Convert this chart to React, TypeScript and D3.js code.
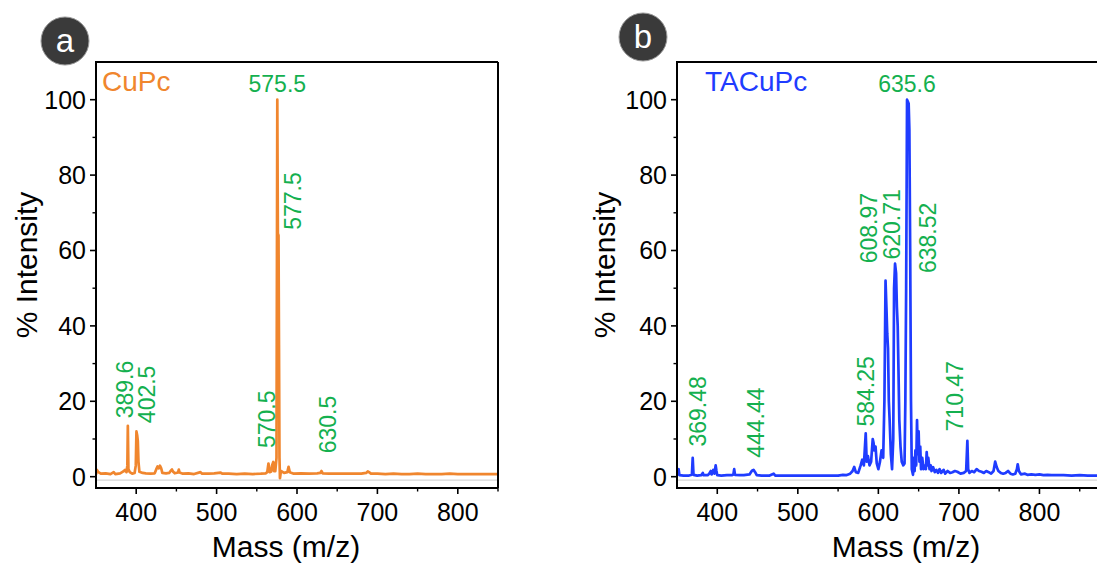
import React from "react";
import * as d3 from "d3";

// ---------- data ----------
const cupcSpectrum: [number, number][] = [
  [350,0.6],[351,1.8],[353,1.2],[356,0.8],[362,0.9],[368,0.7],[372,1.2],[374,0.7],[380,0.9],[384,1.4],[386,1.8],[388,1.2],[389,3],[389.6,13.5],[390.3,2],[392,1.2],[395,0.8],[398,1],[399.5,3],[400.3,12],[401.2,11],[402,9.5],[402.8,4],[404,1.3],[408,1],[412,0.9],[418,0.8],[423,0.9],[425,2],[426.5,2.7],[428,2.2],[429.5,2.9],[431,2.3],[432.5,1],[437,0.9],[441,1],[443,1.6],[444.5,1.9],[446,1.3],[448,0.9],[452,1.1],[453,1.9],[454,1.1],[458,0.8],[465,0.9],[472,0.7],[480,1.2],[482,0.8],[490,0.8],[497,0.9],[505,1.1],[507,0.8],[515,0.8],[525,0.7],[535,0.8],[545,0.7],[555,0.8],[561,0.9],[563,1.2],[564.5,3.5],[566,1.2],[568,1.4],[569,3],[570.5,3.9],[571.5,1.5],[573,1.5],[574.5,5],[575.5,100],[576.2,64.5],[577,64],[577.6,35],[578.2,5],[578.8,-0.4],[580,1.5],[584,1],[588,1.2],[589.5,2.6],[591,1.2],[596,0.8],[605,0.9],[615,0.8],[625,0.9],[629,1],[630.5,1.5],[632,0.9],[640,0.8],[650,0.8],[660,0.8],[670,0.8],[680,0.8],[686,1],[688,1.4],[689.5,1.2],[692,0.8],[700,0.8],[710,0.7],[720,0.8],[730,0.7],[740,0.7],[750,0.8],[760,0.7],[770,0.7],[780,0.7],[790,0.8],[800,0.7],[810,0.7],[820,0.7],[830,0.7],[840,0.7],[850,0.7]
];

const tacupcSpectrum: [number, number][] = [
  [350,0.3],[351,1.8],[352,2],[353,0.4],[358,0.3],[365,0.3],[368.5,0.5],[369.5,5],[370.5,0.5],[375,0.3],[380,0.4],[382,1],[383,0.4],[388,0.4],[390,0.8],[392,1.5],[393,0.6],[395,1.8],[396.5,0.8],[398,3],[399,1.5],[400,0.4],[405,0.3],[412,0.4],[418,0.4],[420,0.6],[421,2],[422,0.5],[428,0.4],[433,0.4],[440,0.6],[443,1.6],[445,1.8],[447,1.2],[449,0.4],[455,0.3],[465,0.3],[470,0.8],[472,0.3],[480,0.3],[490,0.3],[500,0.3],[510,0.3],[520,0.3],[530,0.3],[540,0.3],[550,0.3],[556,0.5],[560,0.4],[565,0.8],[568,1.5],[570,2.6],[572,1.2],[575,1],[578,3],[580,4.5],[582,3],[584.3,11.5],[585.5,4],[587,5.5],[589,3],[591,4],[593,10],[594,9],[595,7],[596.5,8],[598,3.5],[600,2],[602,4],[604,7],[606,5],[607.5,20],[608.9,52],[610,45],[611,38],[612,34],[613,20],[614,15],[615.5,6],[617,2],[618.5,10],[619.5,50],[620.7,56.5],[622,54],[623,45],[624,40],[625,28],[626,15],[627.5,8],[629,4],[631,3],[632.5,3.5],[633.5,20],[634.5,50],[635.6,100],[636.6,99.5],[637.6,99],[638.5,92],[639.5,60],[640.5,20],[641.5,2],[643,0.5],[644,5],[645,1.5],[646,7],[647,3],[648,15],[649,6],[650,12],[651,4],[652,8],[653,2],[654.5,5],[656,2],[658,3],[659,2],[660,6.5],[661,3],[662,5],[663.5,2],[665,3],[666,1.5],[668,2.5],[670,1.2],[672,1.8],[674,1],[676,2],[678,1],[681,1.8],[683,0.8],[686,1.5],[689,1],[692,1.2],[695,1.5],[698,1.3],[702,0.8],[706,1],[709,1.5],[710.5,9.5],[711.5,2],[713,1],[716,1.5],[719,1.2],[722,2],[725,1.5],[728,1.3],[731,1],[734,1.5],[737,1.2],[740,0.8],[743,1.5],[745,4],[747,2.5],[749,1.5],[752,1],[755,0.8],[758,1],[761,1.5],[764,0.8],[767,0.6],[770,0.8],[772,2],[773,3.3],[774.5,1.5],[777,0.6],[782,0.8],[785,0.5],[790,0.6],[795,0.5],[800,0.6],[805,0.4],[810,0.5],[815,0.4],[820,0.4],[830,0.4],[840,0.3],[850,0.4],[860,0.3],[870,0.3],[880,0.3],[890,0.3],[900,0.3]
];

// annotation: text, mz anchor, intensity anchor, x pixel offset, rotated?
type Ann = { text: string; mz: number; at: number; dx: number; rot: boolean };
const cupcLabels: Ann[] = [
  { text: "575.5", mz: 575.5, at: 102, dx: 0, rot: false },
  { text: "577.5", mz: 577.5, at: 65.5, dx: 22, rot: true },
  { text: "389.6", mz: 389.6, at: 15.5, dx: 5, rot: true },
  { text: "402.5", mz: 402.5, at: 14.2, dx: 17, rot: true },
  { text: "570.5", mz: 570.5, at: 7.6, dx: 2, rot: true },
  { text: "630.5", mz: 630.5, at: 6.2, dx: 14, rot: true },
];
const tacupcLabels: Ann[] = [
  { text: "635.6", mz: 635.6, at: 102, dx: 0, rot: false },
  { text: "608.97", mz: 608.97, at: 56.6, dx: -9, rot: true },
  { text: "620.71", mz: 620.71, at: 57.6, dx: 5, rot: true },
  { text: "638.52", mz: 638.52, at: 54, dx: 27, rot: true },
  { text: "584.25", mz: 584.25, at: 13.3, dx: 8, rot: true },
  { text: "369.48", mz: 369.48, at: 8, dx: 13, rot: true },
  { text: "444.44", mz: 444.44, at: 5, dx: 11, rot: true },
  { text: "710.47", mz: 710.47, at: 12, dx: -4, rot: true },
];

const yMajor = [0, 20, 40, 60, 80, 100];
const yMinor = [10, 30, 50, 70, 90];
const xMajor = [400, 500, 600, 700, 800, 900];
const xMinor = [350, 450, 550, 650, 750, 850];

const FONT = "'Liberation Sans', Arial, sans-serif";
const GREEN = "#14b04f";
const VIEW_W = 1097;

type PanelProps = {
  left: number; right: number; top: number; bottom: number;
  xDomain: [number, number];
  data: [number, number][];
  color: string;
  name: string;
  labels: Ann[];
  badge: string; badgeX: number; badgeY: number;
  yTitleX: number; xTitleX: number;
};

function Panel(p: PanelProps) {
  const x = d3.scaleLinear().domain(p.xDomain).range([p.left, p.right]);
  const y = d3.scaleLinear().domain([-3, 110]).range([p.bottom, p.top]);
  const line = d3.line<[number, number]>().x(d => x(d[0])).y(d => y(d[1]));
  const clipId = "clip-" + p.badge;
  const visible = (v: number) => v > p.xDomain[0] && v <= p.xDomain[1] && x(v) < VIEW_W - 22;
  return (
    <g>
      <defs>
        <clipPath id={clipId}>
          <rect x={p.left} y={p.top} width={p.right - p.left} height={p.bottom - p.top} />
        </clipPath>
      </defs>
      {/* zero reference line */}
      <line x1={p.left} x2={p.right} y1={y(-0.9)} y2={y(-0.9)} stroke="#d6d6d6" strokeWidth={1.2} />
      <path d={line(p.data) || ""} fill="none" stroke={p.color} strokeWidth={2.7} strokeLinejoin="round" clipPath={`url(#${clipId})`} />
      {/* frame */}
      <line x1={p.left} x2={p.right} y1={p.top} y2={p.top} stroke="#000" strokeWidth={2} />
      <line x1={p.right} x2={p.right} y1={p.top} y2={p.bottom} stroke="#000" strokeWidth={2} />
      <line x1={p.left} x2={p.left} y1={p.top - 1} y2={p.bottom + 1} stroke="#000" strokeWidth={2} />
      <line x1={p.left - 1} x2={p.right} y1={p.bottom} y2={p.bottom} stroke="#000" strokeWidth={2} />
      {/* y ticks */}
      {yMajor.map(v => (
        <g key={"ym" + v}>
          <line x1={p.left - 6} x2={p.left} y1={y(v)} y2={y(v)} stroke="#000" strokeWidth={1.6} />
          <text x={p.left - 10} y={y(v) + 9} textAnchor="end" fontSize={25} fontFamily={FONT} fill="#000">{v}</text>
        </g>
      ))}
      {yMinor.map(v => (
        <line key={"yn" + v} x1={p.left - 3.5} x2={p.left} y1={y(v)} y2={y(v)} stroke="#000" strokeWidth={1.4} />
      ))}
      {/* x ticks */}
      {xMajor.filter(visible).map(v => (
        <g key={"xm" + v}>
          <line x1={x(v)} x2={x(v)} y1={p.bottom} y2={p.bottom + 6} stroke="#000" strokeWidth={1.6} />
          <text x={x(v)} y={p.bottom + 33} textAnchor="middle" fontSize={25} fontFamily={FONT} fill="#000">{v}</text>
        </g>
      ))}
      {xMinor.filter(v => v > p.xDomain[0] && v <= p.xDomain[1]).map(v => (
        <line key={"xn" + v} x1={x(v)} x2={x(v)} y1={p.bottom} y2={p.bottom + 3.5} stroke="#000" strokeWidth={1.4} />
      ))}
      {/* titles */}
      <text x={p.xTitleX} y={557} textAnchor="middle" fontSize={30} fontFamily={FONT} fill="#000">Mass (m/z)</text>
      <text transform={`translate(${p.yTitleX},265) rotate(-90)`} textAnchor="middle" fontSize={30} fontFamily={FONT} fill="#000">% Intensity</text>
      {/* sample name */}
      <text x={p.left + (p.badge === "a" ? 6 : 28)} y={91} fontSize={28} fontFamily={FONT} fill={p.color}>{p.name}</text>
      {/* peak labels */}
      {p.labels.map(l =>
        l.rot ? (
          <text key={l.text} transform={`translate(${x(l.mz) + l.dx},${y(l.at)}) rotate(-90)`} fontSize={23} fontFamily={FONT} fill={GREEN}>{l.text}</text>
        ) : (
          <text key={l.text} x={x(l.mz) + l.dx} y={y(l.at)} textAnchor="middle" fontSize={23} fontFamily={FONT} fill={GREEN}>{l.text}</text>
        )
      )}
      {/* badge */}
      <circle cx={p.badgeX} cy={p.badgeY} r={24} fill="#3a3a3a" stroke="#9a9a9a" strokeWidth={1} />
      <text x={p.badgeX} y={p.badgeY + 11} textAnchor="middle" fontSize={33} fontFamily={FONT} fill="#fff">{p.badge}</text>
    </g>
  );
}

export default function App() {
  return (
    <svg width={1097} height={563} style={{ position: "absolute", left: 0, top: 0, background: "#fff" }}>
      <rect x={0} y={0} width={1097} height={563} fill="#fff" />
      <Panel left={96} right={498} top={62} bottom={488} xDomain={[350, 850]} data={cupcSpectrum}
        color="#f0862e" name="CuPc" labels={cupcLabels} badge="a" badgeX={65} badgeY={41}
        yTitleX={37} xTitleX={286} />
      <Panel left={677} right={1120} top={62} bottom={488} xDomain={[350, 900]} data={tacupcSpectrum}
        color="#1f3cff" name="TACuPc" labels={tacupcLabels} badge="b" badgeX={643} badgeY={37}
        yTitleX={615} xTitleX={906} />
    </svg>
  );
}
